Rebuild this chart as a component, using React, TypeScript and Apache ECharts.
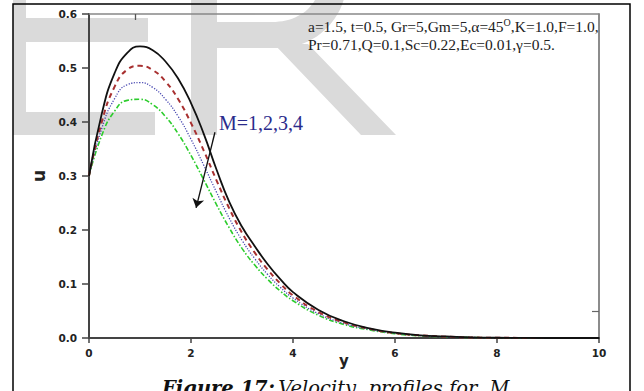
import React, { useEffect, useRef } from "react";
import * as echarts from "echarts";

// distance y
const yValues = [0, 0.25, 0.5, 0.75, 1.0, 1.25, 1.5, 1.75, 2.0, 2.25, 2.5, 2.75, 3.0, 3.25, 3.5, 3.75, 4.0, 4.5, 5.0, 5.5, 6.0, 6.5, 7.0, 7.5, 8.0, 9.0, 10.0];
// velocity u for M = 1, 2, 3, 4
const uM1 = [0.300, 0.415, 0.490, 0.528, 0.540, 0.533, 0.512, 0.480, 0.435, 0.378, 0.312, 0.252, 0.206, 0.170, 0.137, 0.109, 0.085, 0.052, 0.031, 0.018, 0.010, 0.005, 0.003, 0.001, 0.0005, 0, 0];
const uM2 = [0.300, 0.400, 0.465, 0.497, 0.504, 0.496, 0.475, 0.442, 0.398, 0.347, 0.292, 0.240, 0.195, 0.158, 0.127, 0.101, 0.079, 0.048, 0.029, 0.017, 0.009, 0.005, 0.0025, 0.001, 0.0005, 0, 0];
const uM3 = [0.300, 0.388, 0.443, 0.469, 0.473, 0.464, 0.442, 0.410, 0.368, 0.320, 0.270, 0.222, 0.181, 0.147, 0.118, 0.094, 0.074, 0.045, 0.027, 0.016, 0.009, 0.0045, 0.002, 0.001, 0.0004, 0, 0];
const uM4 = [0.300, 0.375, 0.420, 0.440, 0.442, 0.432, 0.410, 0.378, 0.338, 0.293, 0.247, 0.204, 0.166, 0.135, 0.109, 0.087, 0.069, 0.042, 0.025, 0.015, 0.008, 0.004, 0.002, 0.001, 0.0003, 0, 0];

const xTickValues = [0, 2, 4, 6, 8, 10];
const yTickValues = [0, 0.1, 0.2, 0.3, 0.4, 0.5, 0.6];
// single inner ticks on the top and right frame axes
const topTick = [0.9];
const rightTick = [0.05];
// arrow annotation (data coords)
const arrowStart = [2.47, 0.381];
const arrowEnd = [2.1, 0.241];

const paramLine1a = "a=1.5, t=0.5, Gr=5,Gm=5,\u03b1=45";
const paramLine1b = ",K=1.0,F=1.0,";
const paramLine2 = "Pr=0.71,Q=0.1,Sc=0.22,Ec=0.01,\u03b3=0.5.";
const mLabel = "M=1,2,3,4";
const captionBold = "Figure 17:";
const captionItalic = "Velocity  profiles for  M";

// background watermark letters "E" and "R" (decoration, page pixels)
const wmEPath =
  "M13,-80 L26,-80 L26,18 L148,18 L148,42 L26,42 L26,112 L155,112 L155,135 L13,135 Z";
const wmRPath =
  "M191,-80 L217,-80 L217,135 L191,135 Z " +
  "M217,-80 L280,-80 C320,-80 347,-55 347,-22 C347,15 320,46 282,48 L217,48 Z " +
  "M217,22 L272,22 C300,22 320,5 320,-20 C320,-42 303,-56 278,-56 L217,-56 Z " +
  "M274,44 L308,44 L396,135 L361,135 Z";

echarts.graphic.registerShape("wmE", echarts.graphic.extendPath(wmEPath, {}));
echarts.graphic.registerShape("wmR", echarts.graphic.extendPath(wmRPath, {}));

const pairs = (u: number[]) => yValues.map((y, i) => [y, u[i]]);

export default function App() {
  const ref = useRef<HTMLDivElement>(null);
  useEffect(() => {
    if (!ref.current) return;
    const chart = echarts.init(ref.current, null, { renderer: "svg" });
    const tickLabel = {
      fontFamily: "DejaVu Sans",
      fontWeight: "bold" as const,
      fontSize: 10.5,
      color: "#222",
    };
    chart.setOption({
      animation: false,
      backgroundColor: "#ffffff",
      grid: { left: 89, top: 14, right: 45, bottom: 53, containLabel: false },
      xAxis: [
        {
          type: "value",
          min: 0,
          max: 10,
          interval: 2,
          position: "bottom",
          name: "y",
          nameLocation: "middle",
          nameGap: 15,
          nameMoveOverlap: false,
          nameTextStyle: { fontFamily: "DejaVu Sans", fontWeight: "bold", fontSize: 15, lineHeight: 15, color: "#222" },
          axisLine: { show: true, lineStyle: { color: "#444", width: 2 } },
          axisTick: { show: true, length: 5, lineStyle: { color: "#444", width: 1.5 }, customValues: xTickValues },
          axisLabel: { ...tickLabel, margin: 9, customValues: xTickValues },
          splitLine: { show: false },
        },
        {
          type: "value",
          min: 0,
          max: 10,
          position: "top",
          axisLine: { show: true, onZero: false, lineStyle: { color: "#888", width: 1.5 } },
          axisTick: { show: true, inside: true, length: 6, lineStyle: { color: "#555", width: 1.3 }, customValues: topTick },
          axisLabel: { show: false },
          splitLine: { show: false },
        },
      ],
      yAxis: [
        {
          type: "value",
          min: 0,
          max: 0.6,
          interval: 0.1,
          position: "left",
          name: "u",
          nameLocation: "middle",
          nameRotate: 90,
          nameGap: 40,
          nameTextStyle: { fontFamily: "DejaVu Sans", fontWeight: "bold", fontSize: 17, color: "#222" },
          axisLine: { show: true, lineStyle: { color: "#444", width: 2 } },
          axisTick: { show: true, length: 7, lineStyle: { color: "#444", width: 1.5 }, customValues: yTickValues },
          axisLabel: { ...tickLabel, margin: 12, formatter: (v: number) => v.toFixed(1), customValues: yTickValues },
          splitLine: { show: false },
        },
        {
          type: "value",
          min: 0,
          max: 0.6,
          position: "right",
          axisLine: { show: true, onZero: false, lineStyle: { color: "#666", width: 1.5 } },
          axisTick: { show: true, inside: true, length: 7, lineStyle: { color: "#666", width: 1.2 }, customValues: rightTick },
          axisLabel: { show: false },
          splitLine: { show: false },
        },
      ],
      series: [
        {
          name: "M=1",
          type: "line",
          smooth: true,
          showSymbol: false,
          data: pairs(uM1),
          lineStyle: { color: "#111", width: 1.8, type: "solid" },
          z: 5,
          markLine: {
            silent: true,
            symbol: ["none", "arrow"],
            symbolSize: 9,
            label: { show: false },
            lineStyle: { color: "#111", width: 1.3, type: "solid" },
            data: [[{ coord: arrowStart }, { coord: arrowEnd }]],
          },
        },
        {
          name: "M=2",
          type: "line",
          smooth: true,
          showSymbol: false,
          data: pairs(uM2),
          lineStyle: { color: "#a83030", width: 2, type: [5, 4] },
          z: 4,
        },
        {
          name: "M=3",
          type: "line",
          smooth: true,
          showSymbol: false,
          data: pairs(uM3),
          lineStyle: { color: "#4646b0", width: 1.3, type: [1.2, 1.5] },
          z: 3,
        },
        {
          name: "M=4",
          type: "line",
          smooth: true,
          showSymbol: false,
          data: pairs(uM4),
          lineStyle: { color: "#2ccc2c", width: 1.6, type: [5, 2, 1.5, 2] },
          z: 2,
        },
      ],
      graphic: [
        { type: "wmE", z: -10, silent: true, x: 0, y: 0, style: { fill: "#dadada" } },
        { type: "wmR", z: -10, silent: true, x: 0, y: 0, style: { fill: "#dadada" } },
        {
          type: "rect",
          z: 20,
          silent: true,
          shape: { x: 13, y: 4, width: 617, height: 400 },
          style: { fill: "none", stroke: "#000", lineWidth: 1.5 },
        },
        {
          type: "text",
          z: 10,
          silent: true,
          style: {
            x: 308,
            y: 26,
            verticalAlign: "middle",
            text: "{n|" + paramLine1a + "}{s|O}{n|" + paramLine1b + "}",
            rich: {
              n: { fontFamily: "Liberation Serif", fontSize: 15.5, lineHeight: 17, fill: "#222", verticalAlign: "bottom" },
              s: { fontFamily: "Liberation Serif", fontSize: 10, lineHeight: 8, fill: "#222", verticalAlign: "top" },
            },
          },
        },
        {
          type: "text",
          z: 10,
          silent: true,
          style: {
            x: 308,
            y: 44,
            verticalAlign: "middle",
            text: paramLine2,
            font: "15.5px 'Liberation Serif'",
            fill: "#222",
          },
        },
        {
          type: "text",
          z: 10,
          silent: true,
          style: {
            x: 219,
            y: 123,
            verticalAlign: "middle",
            text: mLabel,
            font: "20px 'Liberation Serif'",
            fill: "#2b2b8c",
          },
        },
        {
          type: "text",
          z: 10,
          silent: true,
          style: {
            x: 162,
            y: 388,
            verticalAlign: "middle",
            text: "{b|" + captionBold + "} {i|" + captionItalic + "}",
            rich: {
              b: { fontFamily: "DejaVu Serif", fontSize: 19.5, fontWeight: "bold", fontStyle: "italic", fill: "#111" },
              i: { fontFamily: "DejaVu Serif", fontSize: 19.5, fontStyle: "italic", fill: "#111" },
            },
          },
        },
      ],
    });
    return () => chart.dispose();
  }, []);
  return <div ref={ref} style={{ position: "fixed", left: 0, top: 0, width: 644, height: 391 }} />;
}
